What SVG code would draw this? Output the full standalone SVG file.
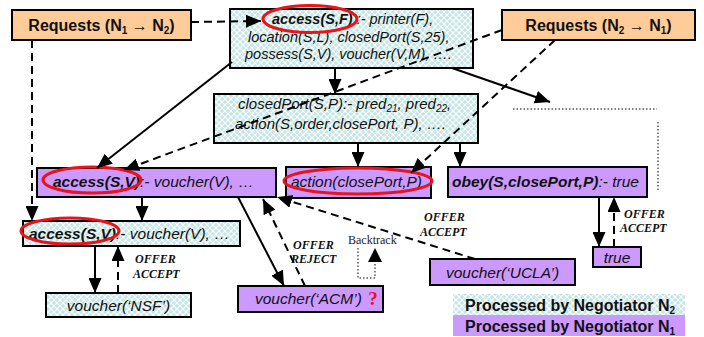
<svg xmlns="http://www.w3.org/2000/svg" width="704" height="337" viewBox="0 0 704 337">
  <defs>
    <pattern id="hatch" width="6" height="6" patternUnits="userSpaceOnUse">
      <rect width="6" height="6" fill="#C4E6E6"/>
      <path d="M0,0 L6,6 M6,0 L0,6" stroke="#FFFFFF" stroke-width="1.1"/>
    </pattern>
    <marker id="head" markerUnits="userSpaceOnUse" markerWidth="15" markerHeight="13" refX="15" refY="6.5" orient="auto">
      <path d="M0,0 L15,6.5 L0,13 z" fill="#000"/>
    </marker>
  </defs>
  <style>
    .req { fill: #FFCC99; stroke: #000; stroke-width: 2; }
    .n2 { fill: url(#hatch); stroke: #000; stroke-width: 2; }
    .n1 { fill: #CC99FF; stroke: #000; stroke-width: 2; }
    .t { font-family: "Liberation Sans", Arial, sans-serif; fill: #111; }
    .it { font-style: italic; }
    .b { font-weight: bold; }
    .lbl { font-family: "Liberation Serif", "Times New Roman", serif; font-weight: bold; font-style: italic; font-size: 12px; fill: #111; }
    .ring { fill: none; stroke: #E8141B; stroke-width: 3; }
    .solid { fill: none; stroke: #000; stroke-width: 2; }
    .dash { fill: none; stroke: #000; stroke-width: 2; stroke-dasharray: 8 5; }
    .dot { fill: none; stroke: #000; stroke-width: 1; stroke-dasharray: 1.5 2; }
  </style>

  <!-- request sources -->
  <g id="req12">
    <rect class="req" x="12" y="10" width="179" height="30"/>
    <text class="t b" x="101.5" y="31" font-size="16" text-anchor="middle">Requests (N<tspan font-size="10" dy="3">1</tspan><tspan dy="-3"> → N</tspan><tspan font-size="10" dy="3">2</tspan><tspan dy="-3">)</tspan></text>
  </g>
  <g id="req21">
    <rect class="req" x="502" y="10" width="193" height="30"/>
    <text class="t b" x="598.5" y="31" font-size="16" text-anchor="middle">Requests (N<tspan font-size="10" dy="3">2</tspan><tspan dy="-3"> → N</tspan><tspan font-size="10" dy="3">1</tspan><tspan dy="-3">)</tspan></text>
  </g>

  <!-- rule for access(S,F) -->
  <g id="ruleAccessF">
    <rect class="n2" x="230" y="9" width="243" height="59"/>
    <text class="t it" font-size="14.5">
      <tspan x="272" y="24"><tspan class="b">access(S,F)</tspan> :- printer(F),</tspan>
      <tspan x="248" y="41.5">location(S,L), closedPort(S,25),</tspan>
      <tspan x="245" y="59">possess(S,V), voucher(V,M), ….</tspan>
    </text>
    <ellipse class="ring" cx="310" cy="19" rx="47" ry="13.5"/>
  </g>

  <!-- rule for closedPort -->
  <g id="ruleClosedPort">
    <rect class="n2" x="214" y="94" width="264" height="49"/>
    <text class="t it" font-size="15">
      <tspan x="238" y="109">closedPort(S,P):- pred<tspan font-size="10" dy="3">21</tspan><tspan dy="-3">, pred</tspan><tspan font-size="10" dy="3">22</tspan><tspan dy="-3">,</tspan></tspan>
      <tspan x="235" y="129">action(S,order,closePort, P), ….</tspan>
    </text>
  </g>

  <!-- N1 rule for access(S,V) -->
  <g id="accessV1">
    <rect class="n1" x="37" y="168" width="239" height="29"/>
    <text class="t it" x="53" y="187" font-size="15.5"><tspan class="b">access(S,V)</tspan>:- voucher(V), …</text>
    <ellipse class="ring" cx="92" cy="180" rx="49" ry="13"/>
  </g>

  <g id="actionNode">
    <rect class="n1" x="286" y="167" width="145" height="31"/>
    <text class="t it" x="291" y="187" font-size="15.5">action(closePort,P)</text>
    <ellipse class="ring" cx="358" cy="181" rx="74" ry="13"/>
  </g>

  <g id="obeyNode">
    <rect class="n1" x="448" y="167" width="199" height="30"/>
    <text class="t it" x="452" y="187" font-size="15.5"><tspan class="b">obey(S,closePort,P)</tspan>:- true</text>
  </g>

  <!-- N2 rule for access(S,V) -->
  <g id="accessV2">
    <rect class="n2" x="23" y="221" width="217" height="25"/>
    <text class="t it" x="29" y="239" font-size="15.5"><tspan class="b">access(S,V)</tspan>:- voucher(V), …</text>
    <ellipse class="ring" cx="70" cy="231" rx="49" ry="13"/>
  </g>

  <g id="nsf">
    <rect class="n2" x="46" y="293" width="145" height="24"/>
    <text class="t it" x="118.5" y="311" font-size="15.5" text-anchor="middle">voucher(‘NSF’)</text>
  </g>

  <g id="acm">
    <rect class="n1" x="238" y="286" width="145" height="26"/>
    <text class="t it" x="255" y="304" font-size="15.5">voucher(‘ACM’)</text>
    <text x="373" y="305" font-family="Liberation Serif, 'Times New Roman', serif" font-weight="bold" font-size="19" fill="#E8141B" text-anchor="middle">?</text>
  </g>

  <g id="ucla">
    <rect class="n1" x="430" y="259" width="145" height="26"/>
    <text class="t it" x="502.5" y="278" font-size="15.5" text-anchor="middle">voucher(‘UCLA’)</text>
  </g>

  <g id="trueNode">
    <rect class="n1" x="593" y="247" width="48" height="20"/>
    <text class="t it" x="617" y="263" font-size="15.5" text-anchor="middle">true</text>
  </g>

  <!-- legend -->
  <g id="legend">
    <rect x="453" y="294" width="232" height="21" fill="url(#hatch)"/>
    <rect x="453" y="315" width="232" height="21" fill="#CC99FF"/>
    <text class="t b" x="465" y="311" font-size="16">Processed by Negotiator N<tspan font-size="10" dy="3">2</tspan></text>
    <text class="t b" x="465" y="332" font-size="16">Processed by Negotiator N<tspan font-size="10" dy="3">1</tspan></text>
  </g>

  <!-- connectors -->
  <g id="connectors">
    <line class="dash" x1="191" y1="22" x2="261" y2="21" marker-end="url(#head)"/>
    <line class="dash" x1="32" y1="40" x2="32" y2="221" marker-end="url(#head)"/>
    <line class="solid" x1="232" y1="62" x2="97" y2="168" marker-end="url(#head)"/>
    <line class="solid" x1="335" y1="68" x2="335" y2="94" marker-end="url(#head)"/>
    <line class="solid" x1="452" y1="68" x2="550" y2="102" marker-end="url(#head)"/>
    <line class="dash" x1="502" y1="30" x2="124" y2="170" marker-end="url(#head)"/>
    <line class="dash" x1="555" y1="40" x2="411" y2="173" marker-end="url(#head)"/>
    <line class="solid" x1="358" y1="143" x2="358" y2="167" marker-end="url(#head)"/>
    <line class="solid" x1="460" y1="143" x2="460" y2="167" marker-end="url(#head)"/>
    <line class="solid" x1="142" y1="197" x2="142" y2="221" marker-end="url(#head)"/>
    <line class="solid" x1="238" y1="197" x2="284" y2="286" marker-end="url(#head)"/>
    <line class="dash" x1="305" y1="286" x2="263" y2="199" marker-end="url(#head)"/>
    <line class="dash" x1="475" y1="259" x2="277" y2="197" marker-end="url(#head)"/>
    <line class="solid" x1="95" y1="246" x2="95" y2="293" marker-end="url(#head)"/>
    <line class="dash" x1="118" y1="293" x2="118" y2="246" marker-end="url(#head)"/>
    <line class="solid" x1="599" y1="197" x2="599" y2="247" marker-end="url(#head)"/>
    <line class="dash" x1="614" y1="247" x2="614" y2="197" marker-end="url(#head)"/>
    <path class="dot" d="M358,248 V278 H375 V252"/>
    <path d="M368,262 L375,248 L382,262 z" fill="#000"/>
    <path class="dot" d="M513,109 H657"/>
    <path class="dot" d="M658,122 V192"/>
  </g>

  <!-- exchange labels -->
  <g id="labels">
    <text class="lbl" x="135" y="263">OFFER</text>
    <text class="lbl" x="133" y="278">ACCEPT</text>
    <text class="lbl" x="293" y="249">OFFER</text>
    <text class="lbl" x="291" y="263">REJECT</text>
    <text class="lbl" x="424" y="221">OFFER</text>
    <text class="lbl" x="420" y="236">ACCEPT</text>
    <text class="lbl" x="624" y="218">OFFER</text>
    <text class="lbl" x="620" y="232">ACCEPT</text>
    <text x="348" y="244" font-family="Liberation Serif, 'Times New Roman', serif" font-size="12" fill="#222">Backtrack</text>
  </g>
</svg>
